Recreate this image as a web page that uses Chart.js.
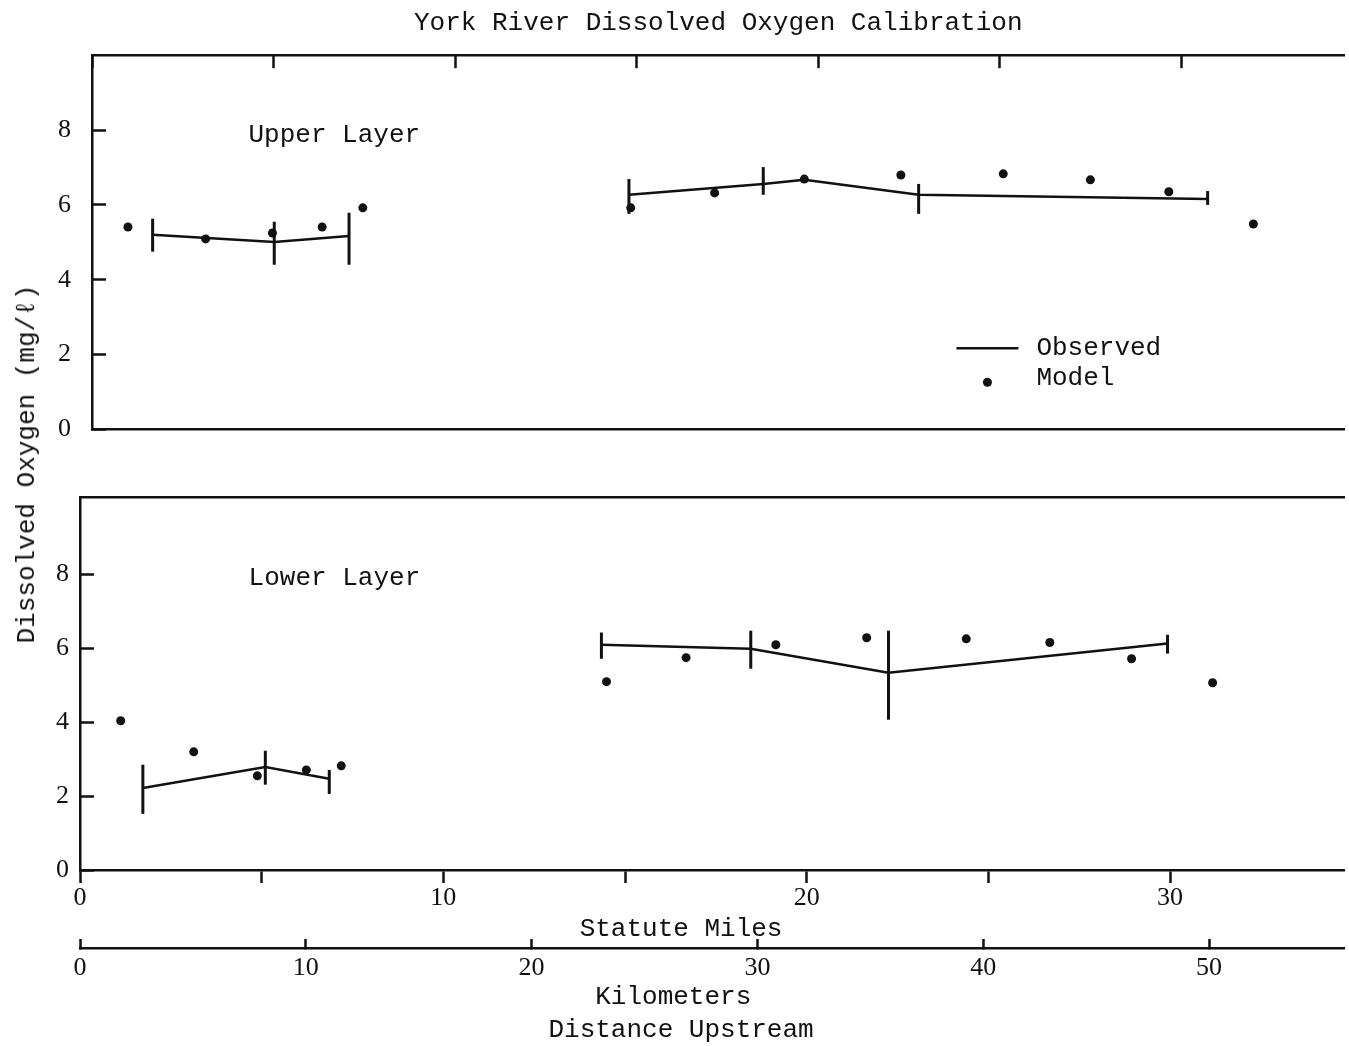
<!DOCTYPE html>
<html>
<head>
<meta charset="utf-8">
<script src="https://cdn.jsdelivr.net/npm/chart.js@4/dist/chart.umd.min.js"></script>
<style>
  html, body { margin: 0; padding: 0; background: #ffffff; }
  body { width: 1349px; height: 1046px; position: relative; overflow: hidden; }
  canvas { position: absolute; left: 0; }
  #upper { top: 0; }
  #lower { top: 450px; }
  #ylabel {
    position: absolute; left: 27px; top: 464px;
    transform: translate(-50%, -50%) rotate(-90deg);
    font: 26px 'Liberation Mono', monospace; color: #111; white-space: nowrap;
  }
</style>
</head>
<body>
<canvas id="upper" width="1349" height="480"></canvas>
<canvas id="lower" width="1349" height="596"></canvas>
<div id="ylabel">Dissolved Oxygen (mg/ℓ)</div>
<script>
// ---- Upper layer: observed means (with ranges) and model values, by river mile
const upperObsMiles = [1.67, 5.02, 7.08, 14.79, 18.49, 19.62, 22.77, 30.73];
const upperObsDO    = [5.20, 5.01, 5.17, 6.27, 6.56, 6.67, 6.27, 6.16];
const upperObsLow   = [4.75, 4.40, 4.40, 5.76, 6.27, null, 5.76, 6.00];
const upperObsHigh  = [5.63, 5.55, 5.79, 6.69, 7.01, null, 6.56, 6.37];
const upperObsReach = [1, 1, 1, 2, 2, 2, 2, 2];
const upperModelMiles = [0.99, 3.13, 4.97, 6.34, 7.46, 14.84, 17.15, 19.62, 22.28, 25.10, 27.50, 29.66, 31.99];
const upperModelDO    = [5.41, 5.09, 5.25, 5.41, 5.92, 5.92, 6.32, 6.69, 6.80, 6.83, 6.67, 6.35, 5.49];

// ---- Lower layer
const lowerObsMiles = [1.73, 5.10, 6.86, 14.35, 18.46, 22.25, 29.93];
const lowerObsDO    = [2.22, 2.79, 2.47, 6.10, 5.99, 5.34, 6.13];
const lowerObsLow   = [1.52, 2.31, 2.06, 5.72, 5.45, 4.07, 5.86];
const lowerObsHigh  = [2.85, 3.23, 2.71, 6.43, 6.48, 6.48, 6.37];
const lowerObsReach = [1, 1, 1, 2, 2, 2, 2];
const lowerModelMiles = [1.12, 3.13, 4.88, 6.23, 7.19, 14.49, 16.68, 19.15, 21.65, 24.39, 26.69, 28.94, 31.17];
const lowerModelDO    = [4.04, 3.20, 2.55, 2.71, 2.82, 5.10, 5.75, 6.10, 6.29, 6.26, 6.16, 5.72, 5.07];

// ---- Tick values
const doTicks = [0, 2, 4, 6, 8];
const mileTicks = [0, 5, 10, 15, 20, 25, 30];
const mileLabels = [0, 10, 20, 30];
const kmTicks = [0, 10, 20, 30, 40, 50];

const INK = '#111111';
const LINE_W = 2.5;
const WORD_FONT = { family: "'Liberation Mono', monospace", size: 26, lineHeight: 1.2, weight: 'normal' };
const NUM_FONT = { family: "'Liberation Serif', serif", size: 26, lineHeight: 1.2, weight: 'normal' };

Chart.defaults.color = INK;
Chart.defaults.font.family = WORD_FONT.family;

const toPoints = (xs, ys) => xs.map((x, i) => ({ x, y: ys[i] }));
const useTicks = values => scale => { scale.ticks = values.map(v => ({ value: v })); };

// vertical range bars at each observed station
const rangeBars = {
  id: 'rangeBars',
  afterDatasetsDraw(chart, args, opts) {
    const ctx = chart.ctx;
    chart.data.datasets.forEach((ds, i) => {
      if (!ds.rangeLow) return;
      const meta = chart.getDatasetMeta(i);
      const xs = chart.scales[meta.xAxisID], ys = chart.scales[meta.yAxisID];
      ctx.save();
      ctx.strokeStyle = ds.borderColor;
      ctx.lineWidth = opts.width || 3;
      ds.data.forEach((p, j) => {
        const lo = ds.rangeLow[j], hi = ds.rangeHigh[j];
        if (lo == null || hi == null) return;
        const x = xs.getPixelForValue(p.x);
        ctx.beginPath();
        ctx.moveTo(x, ys.getPixelForValue(lo));
        ctx.lineTo(x, ys.getPixelForValue(hi));
        ctx.stroke();
      });
      ctx.restore();
    });
  }
};

// panel caption placed in data units
const panelCaption = {
  id: 'panelCaption',
  afterDraw(chart, args, opts) {
    if (!opts || !opts.text) return;
    const ctx = chart.ctx;
    const x = chart.scales.x.getPixelForValue(opts.x);
    const y = chart.scales.y.getPixelForValue(opts.y);
    ctx.save();
    ctx.font = `${WORD_FONT.size}px ${WORD_FONT.family}`;
    ctx.fillStyle = INK;
    ctx.textAlign = 'left';
    ctx.textBaseline = 'middle';
    ctx.fillText(opts.text, x, y);
    ctx.restore();
  }
};

// key drawn inside the plot, anchored in data units
const inlineKey = {
  id: 'inlineKey',
  afterDraw(chart, args, opts) {
    if (!opts || !opts.show) return;
    const ctx = chart.ctx;
    const x0 = chart.scales.x.getPixelForValue(opts.x);
    const y0 = chart.scales.y.getPixelForValue(opts.y);
    ctx.save();
    ctx.font = `${WORD_FONT.size}px ${WORD_FONT.family}`;
    ctx.textAlign = 'left';
    ctx.textBaseline = 'middle';
    chart.data.datasets.forEach((ds, k) => {
      const cy = y0 + k * opts.rowGap;
      ctx.fillStyle = INK;
      ctx.strokeStyle = INK;
      if (ds.showLine !== false) {
        ctx.lineWidth = ds.borderWidth;
        ctx.beginPath();
        ctx.moveTo(x0, cy);
        ctx.lineTo(x0 + opts.sampleWidth, cy);
        ctx.stroke();
      } else {
        ctx.beginPath();
        ctx.arc(x0 + opts.sampleWidth / 2, cy + 4, ds.pointRadius, 0, Math.PI * 2);
        ctx.fill();
      }
      ctx.fillText(ds.label, x0 + opts.textGap, cy);
    });
    ctx.restore();
  }
};

function observedSet(miles, doVals, low, high, reach) {
  return {
    type: 'line',
    label: 'Observed',
    data: toPoints(miles, doVals),
    rangeLow: low,
    rangeHigh: high,
    borderColor: INK,
    borderWidth: LINE_W,
    pointRadius: 0,
    tension: 0,
    segment: {
      borderColor: c => reach[c.p0DataIndex] === reach[c.p1DataIndex] ? INK : 'rgba(0,0,0,0)'
    }
  };
}

function modelSet(miles, doVals) {
  return {
    type: 'scatter',
    label: 'Model',
    data: toPoints(miles, doVals),
    showLine: false,
    pointRadius: 4.5,
    pointBackgroundColor: INK,
    pointBorderWidth: 0,
    borderColor: INK
  };
}

const borderOnly = (pos, min, max) => ({
  type: 'linear', position: pos, min, max,
  ticks: { display: false },
  grid: { display: true, drawOnChartArea: false, drawTicks: false, color: INK },
  border: { display: true, color: INK, width: LINE_W },
  afterFit: s => { s.height = 0; }
});

function doAxis(max, labelPad, width) {
  return {
    type: 'linear', position: 'left', min: 0, max,
    afterBuildTicks: useTicks(doTicks),
    ticks: { padding: labelPad, font: NUM_FONT, color: INK },
    grid: { drawOnChartArea: false, tickLength: -14, color: INK, tickWidth: LINE_W },
    border: { display: true, color: INK, width: LINE_W },
    afterFit: s => { s.width = width; }
  };
}

// ---------- upper layer ----------
new Chart(document.getElementById('upper'), {
  data: {
    datasets: [
      observedSet(upperObsMiles, upperObsDO, upperObsLow, upperObsHigh, upperObsReach),
      modelSet(upperModelMiles, upperModelDO)
    ]
  },
  options: {
    responsive: false,
    animation: false,
    layout: { padding: { top: 0, right: 0, bottom: 0, left: 0 } },
    scales: {
      x: borderOnly('bottom', 0, 34.5),
      xTop: {
        type: 'linear', position: 'top', min: 0, max: 34.5,
        afterBuildTicks: useTicks(mileTicks),
        ticks: { display: false },
        grid: { drawOnChartArea: false, tickLength: -13, color: INK, tickWidth: LINE_W },
        border: { display: true, color: INK, width: LINE_W },
        afterFit: s => { s.height = 0; }
      },
      y: doAxis(10, 35, 92)
    },
    plugins: {
      legend: { display: false },
      tooltip: { enabled: false },
      title: {
        display: true,
        text: 'York River Dissolved Oxygen Calibration',
        fullSize: false,
        color: INK,
        font: WORD_FONT,
        padding: { top: 8, bottom: 16 }
      },
      rangeBars: { width: 3 },
      panelCaption: { text: 'Upper Layer', x: 4.31, y: 7.87 },
      inlineKey: { show: true, x: 23.81, y: 2.17, rowGap: 30, sampleWidth: 62, textGap: 80 }
    }
  },
  plugins: [rangeBars, panelCaption, inlineKey]
});

// ---------- lower layer with distance axes ----------
new Chart(document.getElementById('lower'), {
  data: {
    datasets: [
      observedSet(lowerObsMiles, lowerObsDO, lowerObsLow, lowerObsHigh, lowerObsReach),
      modelSet(lowerModelMiles, lowerModelDO)
    ]
  },
  options: {
    responsive: false,
    animation: false,
    layout: { padding: { top: 47, right: 0, bottom: 0, left: 0 } },
    scales: {
      x: {
        type: 'linear', position: 'bottom', min: 0, max: 34.8, weight: 0,
        afterBuildTicks: useTicks(mileTicks),
        ticks: {
          padding: 0, font: NUM_FONT, color: INK, maxRotation: 0, autoSkip: false,
          callback: v => mileLabels.includes(v) ? String(v) : ''
        },
        grid: { drawOnChartArea: false, tickLength: 13, color: INK, tickWidth: LINE_W },
        border: { display: true, color: INK, width: LINE_W },
        title: { display: true, text: 'Statute Miles    ', color: INK, font: WORD_FONT, padding: { top: 0, bottom: 3 } },
        afterFit: s => { s.height = 78; }
      },
      km: {
        type: 'linear', position: 'bottom', min: 0, max: 56.0, weight: 1,
        afterBuildTicks: useTicks(kmTicks),
        ticks: { padding: 14, font: NUM_FONT, color: INK, maxRotation: 0, autoSkip: false },
        grid: { drawOnChartArea: false, tickLength: -9, color: INK, tickWidth: LINE_W },
        border: { display: true, color: INK, width: LINE_W },
        title: {
          display: true,
          text: ['Kilometers     ', 'Distance Upstream    '],
          color: INK,
          font: { family: WORD_FONT.family, size: 26, lineHeight: 1.25, weight: 'normal' },
          padding: { top: 0, bottom: 0 }
        },
        afterFit: s => { s.height = 98; }
      },
      xTop: borderOnly('top', 0, 34.8),
      y: doAxis(10.1, 25, 80)
    },
    plugins: {
      legend: { display: false },
      tooltip: { enabled: false },
      rangeBars: { width: 3 },
      panelCaption: { text: 'Lower Layer', x: 4.64, y: 7.91 }
    }
  },
  plugins: [rangeBars, panelCaption]
});
</script>
</body>
</html>
